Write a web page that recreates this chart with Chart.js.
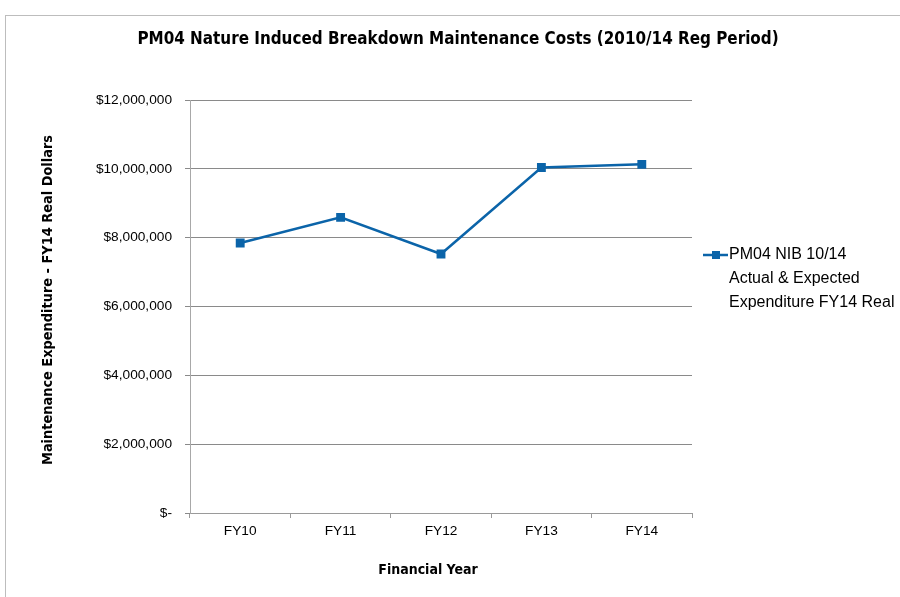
<!DOCTYPE html>
<html>
<head>
<meta charset="utf-8">
<script src="https://cdn.jsdelivr.net/npm/chart.js@4.4.0/dist/chart.umd.min.js"></script>
<style>
  html, body { margin: 0; padding: 0; background: #fff; }
  #wrap { width: 900px; height: 597px; position: relative; }
</style>
</head>
<body>
<div id="wrap"><canvas id="grafico" width="900" height="597"></canvas></div>
<script>
const anos = ['FY10', 'FY11', 'FY12', 'FY13', 'FY14'];
const custos = [7845000, 8590000, 7525000, 10040000, 10130000];
const legendaLinhas = ['PM04 NIB 10/14', 'Actual & Expected', 'Expenditure FY14 Real'];
const tituloGrafico = 'PM04 Nature Induced Breakdown Maintenance Costs (2010/14 Reg Period)';
const tituloY = 'Maintenance Expenditure - FY14 Real Dollars';
const tituloX = 'Financial Year';

const fonteNegrito = '"DejaVu Sans Condensed", "DejaVu Sans", sans-serif';
const fonteTexto = '"Liberation Sans", Arial, sans-serif';
const azul = '#0b64a9';

function formatarDolar(v) {
    if (v === 0) return '$-';
    return '$' + v.toLocaleString('en-US');
}

// frame, titles and the legend to the right of the plot
const textosExtras = {
    id: 'textosExtras',
    beforeDraw(chart) {
        const ctx = chart.ctx;
        ctx.save();
        ctx.strokeStyle = '#bdbdbd';
        ctx.lineWidth = 1;
        ctx.strokeRect(5.5, 15.5, 900, 600);
        ctx.restore();
    },
    afterDraw(chart) {
        const ctx = chart.ctx;
        ctx.save();
        ctx.fillStyle = '#000';
        ctx.textAlign = 'center';
        ctx.textBaseline = 'middle';

        ctx.font = 'bold 16.9px ' + fonteNegrito;
        ctx.fillText(tituloGrafico, 458, 40);

        ctx.font = 'bold 14px ' + fonteNegrito;
        ctx.fillText(tituloX, 428, 570);

        ctx.save();
        ctx.translate(48, 300);
        ctx.rotate(-Math.PI / 2);
        ctx.font = 'bold 14.4px ' + fonteNegrito;
        ctx.fillText(tituloY, 0, 0);
        ctx.restore();

        // legend
        const y0 = 255;
        ctx.strokeStyle = azul;
        ctx.lineWidth = 2.5;
        ctx.beginPath();
        ctx.moveTo(703, y0);
        ctx.lineTo(728, y0);
        ctx.stroke();
        ctx.fillStyle = azul;
        ctx.fillRect(712, y0 - 4, 8, 8);
        ctx.fillStyle = '#000';
        ctx.textAlign = 'left';
        ctx.font = '16px ' + fonteTexto;
        legendaLinhas.forEach((t, i) => ctx.fillText(t, 729, y0 + i * 24));
        ctx.restore();
    }
};

new Chart(document.getElementById('grafico').getContext('2d'), {
    type: 'line',
    data: {
        labels: anos,
        datasets: [{
            label: legendaLinhas.join(' '),
            data: custos,
            borderColor: azul,
            backgroundColor: azul,
            borderWidth: 2.5,
            pointStyle: 'rect',
            pointRadius: 4.5,
            pointHoverRadius: 4.5,
            tension: 0,
            fill: false
        }]
    },
    options: {
        responsive: false,
        animation: false,
        layout: { padding: { left: 0, right: 208, top: 100, bottom: 0 } },
        plugins: {
            legend: { display: false },
            tooltip: { enabled: false },
            title: { display: false }
        },
        scales: {
            x: {
                offset: true,
                afterFit(s) { s.height = 84; },
                grid: {
                    offset: true,
                    drawOnChartArea: false,
                    drawTicks: true,
                    tickLength: 5,
                    color: '#9a9a9a'
                },
                border: { color: '#9a9a9a' },
                ticks: {
                    color: '#000',
                    padding: 5,
                    font: { family: fonteTexto, size: 13.7 }
                }
            },
            y: {
                min: 0,
                max: 12000000,
                afterFit(s) { s.width = 190; },
                grid: {
                    color: '#8a8a8a',
                    tickLength: 5
                },
                border: { color: '#a8a8a8' },
                ticks: {
                    stepSize: 2000000,
                    color: '#000',
                    padding: 13,
                    font: { family: fonteTexto, size: 13.7 },
                    callback: v => formatarDolar(v)
                }
            }
        }
    },
    plugins: [textosExtras]
});
</script>
</body>
</html>
